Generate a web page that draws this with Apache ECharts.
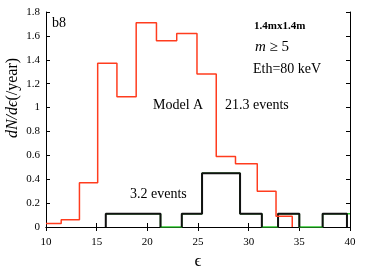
<!DOCTYPE html>
<html><head><meta charset="utf-8">
<script src="https://cdn.jsdelivr.net/npm/echarts@6/dist/echarts.min.js"></script>
<style>html,body{margin:0;padding:0;background:#fff}#c{width:371px;height:266px}</style>
</head><body><div id="c"></div>
<script>
// Model A (red) histogram
const redEdges = [10, 11.5, 13.3, 15.1, 17.0, 18.9, 20.9, 22.9, 24.9, 26.8, 28.7, 30.85, 32.7, 34.3];
const redValues = [0.03, 0.06, 0.37, 1.37, 1.09, 1.71, 1.56, 1.62, 1.28, 0.59, 0.53, 0.30, 0.09];
// Observed (black) histogram
const blackEdges = [15.9, 21.3, 23.4, 25.4, 29.15, 31.3, 32.9, 35.0, 37.3, 39.7];
const blackValues = [0.11, 0, 0.11, 0.45, 0.11, 0, 0.11, 0, 0.11];
// Green step line
const greenEdges = [15.9, 21.3, 23.4, 25.4, 29.15, 31.3, 32.9, 35.0, 37.3, 40];
const greenValues = [0.11, 0, 0.11, 0.45, 0.11, 0, 0.11, 0, 0.11];
const xTicks = [10, 15, 20, 25, 30, 35, 40];
const yTicks = [0, 0.2, 0.4, 0.6, 0.8, 1, 1.2, 1.4, 1.6, 1.8];

function stepPts(edges, vals, dropEnd) {
  const p = [];
  for (let i = 0; i < vals.length; i++) { p.push([edges[i], vals[i]]); p.push([edges[i + 1], vals[i]]); }
  if (dropEnd) p.push([edges[edges.length - 1], 0]);
  return p;
}
function boxGroups(edges, vals) {
  const groups = []; let cur = null;
  for (let i = 0; i < vals.length; i++) {
    if (vals[i] > 0) {
      if (!cur) { cur = [[edges[i], 0]]; }
      cur.push([edges[i], vals[i]]); cur.push([edges[i + 1], vals[i]]);
    } else if (cur) { cur.push([edges[i], 0]); groups.push(cur); cur = null; }
  }
  if (cur) { cur.push([edges[vals.length], 0]); groups.push(cur); }
  return groups;
}

const serif = 'Liberation Serif';
const chart = echarts.init(document.getElementById('c'), null, { renderer: 'canvas' });
const lineBase = { type: 'line', showSymbol: false, symbol: 'none', animation: false, silent: true };
const series = [];
series.push(Object.assign({}, lineBase, { data: stepPts(greenEdges, greenValues, false), lineStyle: { color: '#2ecc2e', width: 1.5 }, z: 2 }));
boxGroups(blackEdges, blackValues).forEach(g => series.push(Object.assign({}, lineBase, { data: g, lineStyle: { color: '#111', width: 2 }, z: 3 })));
series.push(Object.assign({}, lineBase, { data: stepPts(redEdges, redValues, true), lineStyle: { color: '#ff3c1e', width: 1.5 }, z: 4 }));

const axisCommon = {
  axisLine: { show: true, lineStyle: { color: '#000', width: 1 } },
  axisTick: { show: true, inside: true, length: 4, lineStyle: { color: '#000' } },
  splitLine: { show: false }
};
chart.setOption({
  animation: false,
  grid: { left: 46, right: 21, top: 12, bottom: 39, containLabel: false, outerBoundsMode: 'none' },
  xAxis: [
    Object.assign({ type: 'value', min: xTicks[0], max: xTicks[xTicks.length - 1], interval: 5,
      axisLabel: { fontFamily: serif, fontSize: 11, color: '#000', margin: 10 },
      name: 'ϵ', nameLocation: 'middle', nameGap: 21, nameTextStyle: { fontFamily: serif, fontSize: 17, color: '#000' } }, axisCommon),
    Object.assign({ type: 'value', position: 'top', min: 10, max: 40, interval: 5, axisLabel: { show: false } }, axisCommon)
  ],
  yAxis: [
    Object.assign({ type: 'value', min: yTicks[0], max: yTicks[yTicks.length - 1], interval: 0.2,
      axisLabel: { fontFamily: serif, fontSize: 11, color: '#000', margin: 6 } }, axisCommon),
    Object.assign({ type: 'value', position: 'right', min: 0, max: 1.8, interval: 0.2, axisLabel: { show: false } }, axisCommon)
  ],
  series: series,
  graphic: [
    { type: 'text', x: 13, y: 98, rotation: Math.PI / 2, style: { text: '{i|dN/dϵ}{n|(/year)}', align: 'center', verticalAlign: 'middle',
      rich: { i: { fontFamily: serif, fontStyle: 'italic', fontSize: 16, fill: '#000' }, n: { fontFamily: serif, fontSize: 16, fill: '#000' } } } },
    { type: 'text', left: 52, top: 16, style: { text: 'b8', font: '14px "Liberation Serif"', fill: '#000' } },
    { type: 'text', left: 254, top: 21, style: { text: '1.4mx1.4m', font: 'bold 11px "Liberation Serif"', fill: '#000' } },
    { type: 'text', left: 255, top: 40, style: { text: '{i|m} ≥ 5', rich: { i: { fontFamily: serif, fontStyle: 'italic', fontSize: 15, fill: '#000' } }, font: '15px "Liberation Serif"', fill: '#000' } },
    { type: 'text', left: 253, top: 62, style: { text: 'Eth=80 keV', font: '14px "Liberation Serif"', fill: '#000' } },
    { type: 'text', left: 153, top: 98, style: { text: 'Model A', font: '14px "Liberation Serif"', fill: '#000' } },
    { type: 'text', left: 225, top: 98, style: { text: '21.3 events', font: '14px "Liberation Serif"', fill: '#000' } },
    { type: 'text', left: 130, top: 187, style: { text: '3.2 events', font: '14px "Liberation Serif"', fill: '#000' } }
  ]
});
</script></body></html>
